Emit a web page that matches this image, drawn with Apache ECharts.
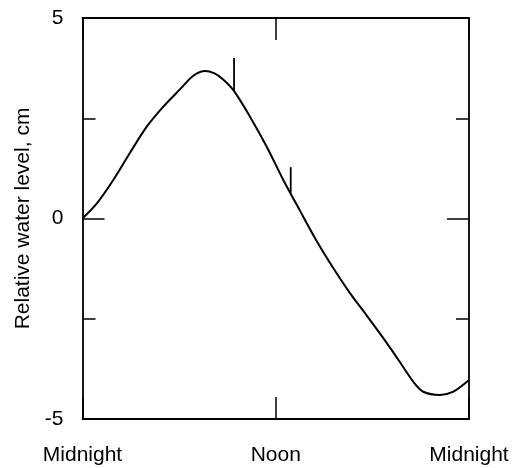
<!DOCTYPE html>
<html>
<head>
<meta charset="utf-8">
<script src="https://cdn.jsdelivr.net/npm/echarts@6/dist/echarts.min.js"></script>
<style>html,body{margin:0;padding:0;background:#fff}#c{width:514px;height:468px}</style>
</head>
<body>
<div id="c"></div>
<script>
// hours since midnight
var hours = [0, 0.88, 1.91, 2.95, 3.99, 5.02, 6.05, 6.88, 7.6, 8.2, 8.7, 9.37, 10.4, 11.44, 12.47, 13.51, 14.54, 15.58, 16.61, 17.65, 18.6, 19.56, 20.54, 21.16, 22.2, 23.03, 24];
var level = [0, 0.37, 0.96, 1.64, 2.29, 2.79, 3.22, 3.56, 3.68, 3.62, 3.48, 3.2, 2.54, 1.79, 0.96, 0.19, -0.56, -1.24, -1.86, -2.42, -2.94, -3.49, -4.07, -4.32, -4.4, -4.32, -4.03];
// vertical markers: time, top, bottom
var markerHours = [9.41, 12.93];
var markerTop = [4.0, 1.28];
var markerBottom = [3.18, 0.64];
var xTickLabels = {0: 'Midnight', 12: 'Noon', 24: 'Midnight'};
var yTickLabels = {'-5': '-5', '0': '0', '5': '5'};
var yTitle = 'Relative water level, cm';

var font = 'Liberation Sans, Arial, sans-serif';
var axisLine = {show: true, onZero: false, lineStyle: {color: '#000', width: 1.8}};
var chart = echarts.init(document.getElementById('c'));
var lineData = hours.map(function (h, i) { return [h, level[i]]; });
var markData = markerHours.map(function (h, i) { return [h, markerTop[i], markerBottom[i]]; });

chart.setOption({
  animation: false,
  grid: {left: 82.5, right: 45, top: 18, bottom: 49},
  xAxis: [{
    type: 'value', min: 0, max: 24, interval: 12, position: 'bottom',
    axisLine: axisLine,
    axisTick: {show: true, inside: true, length: 22, lineStyle: {color: '#000', width: 1.5}},
    axisLabel: {show: true, margin: 26, fontSize: 21, color: '#000', fontFamily: font,
      formatter: function (v) { return xTickLabels[v] || ''; }},
    splitLine: {show: false}
  }, {
    type: 'value', min: 0, max: 24, interval: 12, position: 'top',
    axisLine: axisLine,
    axisTick: {show: true, inside: true, length: 22, lineStyle: {color: '#000', width: 1.5}},
    axisLabel: {show: false},
    splitLine: {show: false}
  }],
  yAxis: [{
    type: 'value', min: -5, max: 5, interval: 5, position: 'left',
    name: yTitle, nameLocation: 'middle', nameGap: 49, nameRotate: 90,
    nameTextStyle: {fontSize: 21, color: '#000', fontFamily: font},
    axisLine: axisLine,
    axisTick: {show: true, inside: true, length: 22, lineStyle: {color: '#000', width: 1.5}},
    minorTick: {show: true, splitNumber: 2, length: 13, lineStyle: {color: '#000', width: 1.5}},
    axisLabel: {show: true, margin: 19, fontSize: 21, color: '#000', fontFamily: font,
      formatter: function (v) { return yTickLabels[String(v)] || ''; }},
    splitLine: {show: false}, minorSplitLine: {show: false}
  }, {
    type: 'value', min: -5, max: 5, interval: 5, position: 'right',
    axisLine: axisLine,
    axisTick: {show: true, inside: true, length: 22, lineStyle: {color: '#000', width: 1.5}},
    minorTick: {show: true, splitNumber: 2, length: 13, lineStyle: {color: '#000', width: 1.5}},
    axisLabel: {show: false},
    splitLine: {show: false}, minorSplitLine: {show: false}
  }],
  series: [{
    type: 'line', data: lineData, smooth: 0.3, showSymbol: false,
    lineStyle: {color: '#000', width: 2}
  }, {
    type: 'custom', data: markData,
    renderItem: function (params, api) {
      var p1 = api.coord([api.value(0), api.value(1)]);
      var p2 = api.coord([api.value(0), api.value(2)]);
      return {type: 'line', shape: {x1: p1[0], y1: p1[1], x2: p2[0], y2: p2[1]},
        style: {stroke: '#000', lineWidth: 1.8}};
    }
  }]
});
</script>
</body>
</html>
